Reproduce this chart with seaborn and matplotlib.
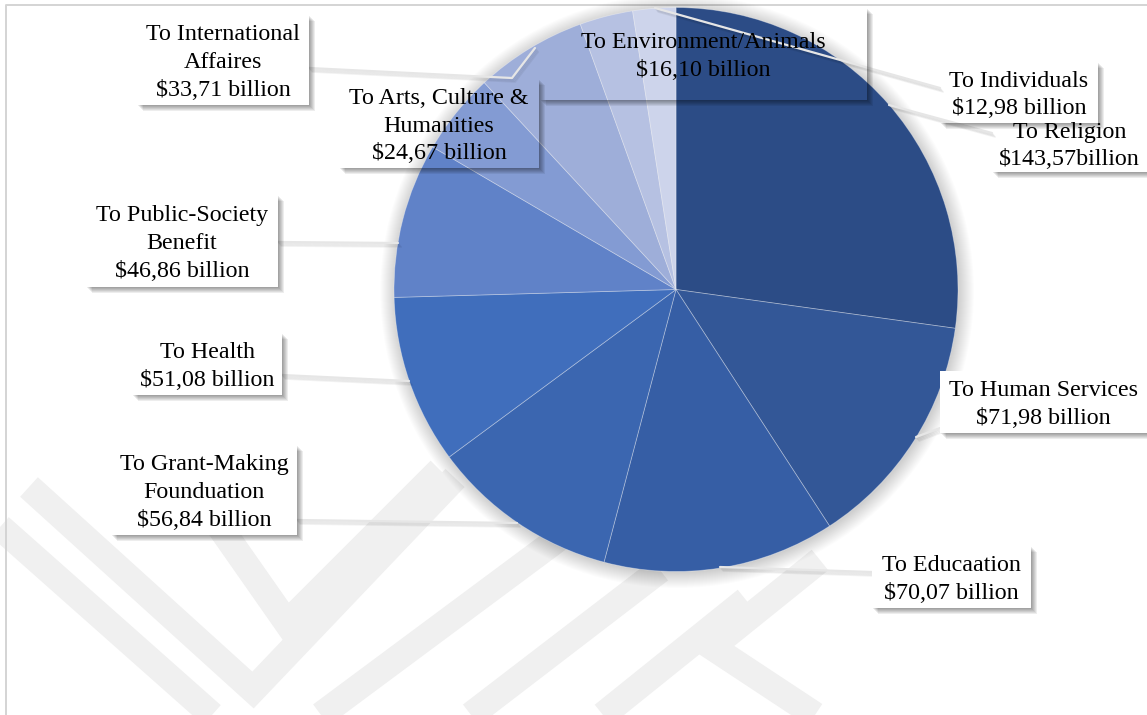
import numpy as np
import matplotlib
matplotlib.use("Agg")
import matplotlib.pyplot as plt
import seaborn as sns
from matplotlib.patches import Rectangle, Polygon, Circle

# ---- data -------------------------------------------------------------
categories = [
    "To Religion",
    "To Human Services",
    "To Educaation",
    "To Grant-Making\nFounduation",
    "To Health",
    "To Public-Society\nBenefit",
    "To Arts, Culture &\nHumanities",
    "To International\nAffaires",
    "To Environment/Animals",
    "To Individuals",
]
values = [143.57, 71.98, 70.07, 56.84, 51.08, 46.86, 24.67, 33.71, 16.10, 12.98]
value_texts = [
    "$143,57billion", "$71,98 billion", "$70,07 billion", "$56,84 billion",
    "$51,08 billion", "$46,86 billion", "$24,67 billion", "$33,71 billion",
    "$16,10 billion", "$12,98 billion",
]
slice_colors = [
    "#2c4c86", "#335797", "#365ea5", "#3b66b0", "#406ebc",
    "#6082c8", "#839bd3", "#9eaed9", "#b6c1e2", "#cdd4eb",
]

# ---- layout (pixel coordinates, y downward) ---------------------------
W, H = 1147, 715
CX, CY, R = 676, 289.5, 282

# label boxes: x0, y0, x1, y1, filled
boxes = [
    (992, 115, 1147, 172, False),
    (940, 371, 1147, 433, True),
    (872, 546, 1031, 608, True),
    (111, 445, 297, 535, True),
    (132, 333, 282, 395, True),
    (86, 195, 278, 287, True),
    (339, 79, 539, 168, False),
    (137, 15, 309, 105, True),
    (540, 8, 867, 100, False),
    (940, 62, 1098, 123, False),
]
# leader lines from box edge toward the slice
leaders = [
    [(992, 133), (889, 105)],
    [(940, 428), (916, 437)],
    [(872, 572), (720, 567)],
    [(297, 520), (517, 523)],
    [(282, 375), (409, 381)],
    [(278, 242), (398, 243)],
    None,
    [(309, 68), (512, 78), (535, 48)],
    None,
    [(940, 88), (655, 8)],
]

watermark = [
    [(29, 487), (253, 690), (455, 478)],
    [(189, 483), (287, 623), (440, 470)],
    [(0, 527), (212, 715)],
    [(321, 715), (574, 527)],
    [(471, 715), (660, 570)],
    [(603, 715), (746, 600)],
    [(820, 560), (712, 647), (815, 715)],
]

sns.set_theme(style="white")
plt.rcParams["font.family"] = ["Liberation Serif", "DejaVu Serif"]
palette = sns.color_palette(slice_colors)

fig = plt.figure(figsize=(W / 100, H / 100), dpi=100)
fig.patch.set_facecolor("white")

# background layer: faint watermark and frame
bg = fig.add_axes([0, 0, 1, 1], zorder=0)
bg.set_xlim(0, W)
bg.set_ylim(H, 0)
bg.axis("off")
for seg in watermark:
    xs, ys = zip(*seg)
    bg.plot(xs, ys, color="#f0f0f0", lw=19, solid_capstyle="butt",
            solid_joinstyle="miter")
bg.plot([6, 6, W], [H, 5, 5], color="#d4d4d4", lw=1.4)

# pie with a soft halo
pax = fig.add_axes([(CX - R) / W, 1 - (CY + R) / H, 2 * R / W, 2 * R / H], zorder=1)
for i in range(16):
    pax.add_patch(Circle((0.004, -0.006), 1.0 + 0.0035 * i, color="black",
                         alpha=0.011, lw=0, clip_on=False, zorder=0))
pax.pie(values, colors=palette, startangle=90, counterclock=False, radius=1,
        wedgeprops=dict(edgecolor=(1, 1, 1, 0.35), linewidth=0.6))
pax.set_xlim(-1, 1)
pax.set_ylim(-1, 1)
pax.axis("off")

# overlay: leader lines, label boxes, labels
ov = fig.add_axes([0, 0, 1, 1], zorder=2)
ov.set_facecolor("none")
ov.set_xlim(0, W)
ov.set_ylim(H, 0)
ov.axis("off")


def box_shadow(ax, x0, y0, x1, y1):
    for d in range(1, 7):
        poly = [(x1, y0 + d), (x1 + d, y0 + d), (x1 + d, y1 + d),
                (x0 + d, y1 + d), (x0 + d, y1), (x1, y1)]
        ax.add_patch(Polygon(poly, closed=True, facecolor="black",
                             edgecolor="none", alpha=0.07, zorder=3))


for seg in leaders:
    if seg is None:
        continue
    xs, ys = zip(*seg)
    for k in range(1, 5):
        ov.plot(np.array(xs) + k * 0.8, np.array(ys) + k * 1.0, color="black",
                lw=1.2, alpha=0.05, solid_capstyle="round", zorder=2)
    ov.plot(xs, ys, color="#e6e6e6", lw=1.6, zorder=2.5)

for (x0, y0, x1, y1, filled), cat, val in zip(boxes, categories, value_texts):
    box_shadow(ov, x0, y0, x1, y1)
    if filled:
        ov.add_patch(Rectangle((x0, y0), x1 - x0, y1 - y0, facecolor="white",
                               edgecolor="none", zorder=4))
    ov.text((x0 + x1) / 2, (y0 + y1) / 2 + 2.5, cat + "\n" + val, ha="center",
            va="center", multialignment="center", fontsize=17.3,
            linespacing=1.42, color="black", parse_math=False, zorder=5)

fig.savefig("out.png", dpi=100, facecolor="white")
